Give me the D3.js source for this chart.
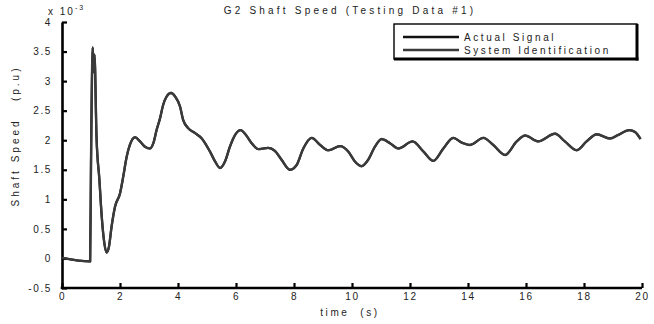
<!DOCTYPE html>
<html>
<head>
<meta charset="utf-8">
<script src="https://cdn.jsdelivr.net/npm/d3@7"></script>
<style>
  html, body { margin: 0; padding: 0; background: #fff; }
  svg { display: block; }
  text { font-family: "Liberation Sans", Arial, Helvetica, sans-serif; fill: #222; }
</style>
</head>
<body>
<svg id="chart" width="654" height="324"></svg>
<script>
// Time samples (s)
const time = [
  0, 0.97, 1.0, 1.06, 1.09, 1.12, 1.19, 1.29, 1.37, 1.46, 1.54, 1.62, 1.71, 1.83, 2.0,
  2.11, 2.23, 2.34, 2.52, 2.69, 2.86, 3.03, 3.15, 3.26, 3.38, 3.49, 3.61, 3.76, 3.9,
  4.07, 4.18, 4.36, 4.59, 4.82, 5.10, 5.28, 5.45, 5.62, 5.79, 5.97, 6.16, 6.34, 6.54,
  6.77, 7.11, 7.34, 7.57, 7.86, 8.09, 8.32, 8.61, 8.9, 9.18, 9.59, 9.87, 10.1, 10.33,
  10.56, 10.79, 11.02, 11.31, 11.6, 12.09, 12.46, 12.8, 13.15, 13.49, 13.78, 14.07,
  14.53, 14.87, 15.28, 15.68, 15.97, 16.42, 17.0, 17.34, 17.75, 18.09, 18.44, 18.9,
  19.18, 19.56, 19.76, 19.95
];

// Measured shaft speed deviation (p.u, x 10^-3)
const actualSignal = [
  0.01, -0.05, 1.6, 3.57, 3.15, 3.45, 2.06, 1.33, 0.71, 0.26, 0.10, 0.20, 0.54, 0.88, 1.10,
  1.38, 1.72, 1.92, 2.05, 1.98, 1.89, 1.86, 1.95, 2.17, 2.37, 2.60, 2.74, 2.80, 2.74,
  2.57, 2.34, 2.20, 2.12, 2.03, 1.81, 1.64, 1.53, 1.64, 1.89, 2.09, 2.17, 2.09, 1.95,
  1.85, 1.87, 1.82, 1.67, 1.50, 1.58, 1.86, 2.04, 1.92, 1.83, 1.90, 1.81, 1.64, 1.56,
  1.67, 1.89, 2.02, 1.95, 1.86, 1.98, 1.81, 1.65, 1.86, 2.04, 1.96, 1.92,
  2.04, 1.92, 1.75, 1.98, 2.08, 1.98, 2.11, 1.98, 1.83, 1.98, 2.10, 2.03,
  2.09, 2.17, 2.14, 2.02
];

// Identified model response (p.u, x 10^-3)
const systemIdentification = [
  0.01, -0.05, 1.6, 3.57, 3.15, 3.45, 2.06, 1.33, 0.71, 0.26, 0.10, 0.20, 0.54, 0.88, 1.10,
  1.38, 1.72, 1.92, 2.05, 1.98, 1.89, 1.86, 1.95, 2.17, 2.37, 2.60, 2.74, 2.80, 2.74,
  2.57, 2.34, 2.20, 2.12, 2.03, 1.81, 1.64, 1.53, 1.64, 1.89, 2.09, 2.17, 2.09, 1.95,
  1.85, 1.87, 1.82, 1.67, 1.50, 1.58, 1.86, 2.04, 1.92, 1.83, 1.90, 1.81, 1.64, 1.56,
  1.67, 1.89, 2.02, 1.95, 1.86, 1.98, 1.81, 1.65, 1.86, 2.04, 1.96, 1.92,
  2.04, 1.92, 1.75, 1.98, 2.08, 1.98, 2.11, 1.98, 1.83, 1.98, 2.10, 2.03,
  2.09, 2.17, 2.14, 2.02
];

const xTicks = [0, 2, 4, 6, 8, 10, 12, 14, 16, 18, 20];
const yTicks = [-0.5, 0, 0.5, 1, 1.5, 2, 2.5, 3, 3.5, 4];

const seriesNames = ["Actual Signal", "System Identification"];
const seriesColors = ["#111111", "#3a3a3a"];

const svg = d3.select("#chart");

const x = d3.scaleLinear().domain([0, 20]).range([62, 642]);
const y = d3.scaleLinear().domain([-0.5, 4]).range([288, 22]);

// Axes (box off, ticks pointing inward)
const xAxis = d3.axisBottom(x).tickValues(xTicks).tickSizeInner(-5).tickSizeOuter(0)
  .tickPadding(5).tickFormat(d3.format("d"));
const yAxis = d3.axisLeft(y).tickValues(yTicks).tickSizeInner(-5).tickSizeOuter(0)
  .tickPadding(9).tickFormat(d => String(d));

const gx = svg.append("g").attr("transform", `translate(0,${y(-0.5)})`).call(xAxis);
const gy = svg.append("g").attr("transform", `translate(${x(0)},0)`).call(yAxis);

[gx, gy].forEach(g => {
  g.select(".domain").attr("stroke", "#000").attr("stroke-width", 2.6);
  g.selectAll(".tick line").attr("stroke", "#000").attr("stroke-width", 2.2);
  g.selectAll(".tick text")
    .attr("fill", "#222")
    .style("font-size", "10px")
    .style("letter-spacing", "1.6px");
});
gx.select(".domain").attr("d", `M${x(0) - 1.3},0H${x(20)}`);
gy.selectAll(".tick text").attr("dx", "-1px");

// Series lines
const line = d3.line()
  .x((d, i) => x(time[i]))
  .y(d => y(d))
  .curve(d3.curveMonotoneX);

[actualSignal, systemIdentification].forEach((vals, k) => {
  svg.append("path")
    .datum(vals)
    .attr("fill", "none")
    .attr("stroke", seriesColors[k])
    .attr("stroke-width", k === 0 ? 2.2 : 2.4)
    .attr("stroke-linejoin", "round")
    .attr("d", line);
});

// Title
svg.append("text")
  .attr("x", 350).attr("y", 14)
  .attr("text-anchor", "middle")
  .style("font-size", "10px")
  .style("letter-spacing", "3.2px")
  .text("G2 Shaft Speed (Testing Data #1)");

// Exponent multiplier
const ex = svg.append("text").attr("x", 48).attr("y", 15).style("font-size", "10px").style("letter-spacing", "2px");
ex.append("tspan").text("x 10");
ex.append("tspan").attr("dy", -5).style("font-size", "7px").text("-3");

// Axis titles
svg.append("text")
  .attr("x", 350).attr("y", 316)
  .attr("text-anchor", "middle")
  .style("font-size", "10px")
  .style("letter-spacing", "2.6px")
  .attr("xml:space", "preserve")
  .text("time  (s)");

svg.append("text")
  .attr("transform", "translate(19,136) rotate(-90)")
  .attr("text-anchor", "middle")
  .style("font-size", "10px")
  .style("letter-spacing", "3px")
  .attr("xml:space", "preserve")
  .text("Shaft Speed   (p.u)");

// Legend
const lg = svg.append("g");
const lx0 = 394, lx1 = 637, ly0 = 24, ly1 = 59;
lg.append("rect").attr("x", lx0).attr("y", ly0).attr("width", lx1 - lx0).attr("height", ly1 - ly0)
  .attr("fill", "#fff").attr("stroke", "#000").attr("stroke-width", 1.4);
lg.append("line").attr("x1", lx1).attr("x2", lx1).attr("y1", ly0).attr("y2", ly1 + 1.5)
  .attr("stroke", "#000").attr("stroke-width", 3);
lg.append("line").attr("x1", lx0).attr("x2", lx1 + 1.5).attr("y1", ly1).attr("y2", ly1)
  .attr("stroke", "#000").attr("stroke-width", 3);

seriesNames.forEach((name, i) => {
  const yy = 37 + i * 13;
  lg.append("line").attr("x1", 403).attr("x2", 459).attr("y1", yy).attr("y2", yy)
    .attr("stroke", seriesColors[i]).attr("stroke-width", 2.4);
  lg.append("text").attr("x", 464).attr("y", yy + 3.5)
    .style("font-size", "10px")
    .style("letter-spacing", "2.6px")
    .text(name);
});
</script>
</body>
</html>
